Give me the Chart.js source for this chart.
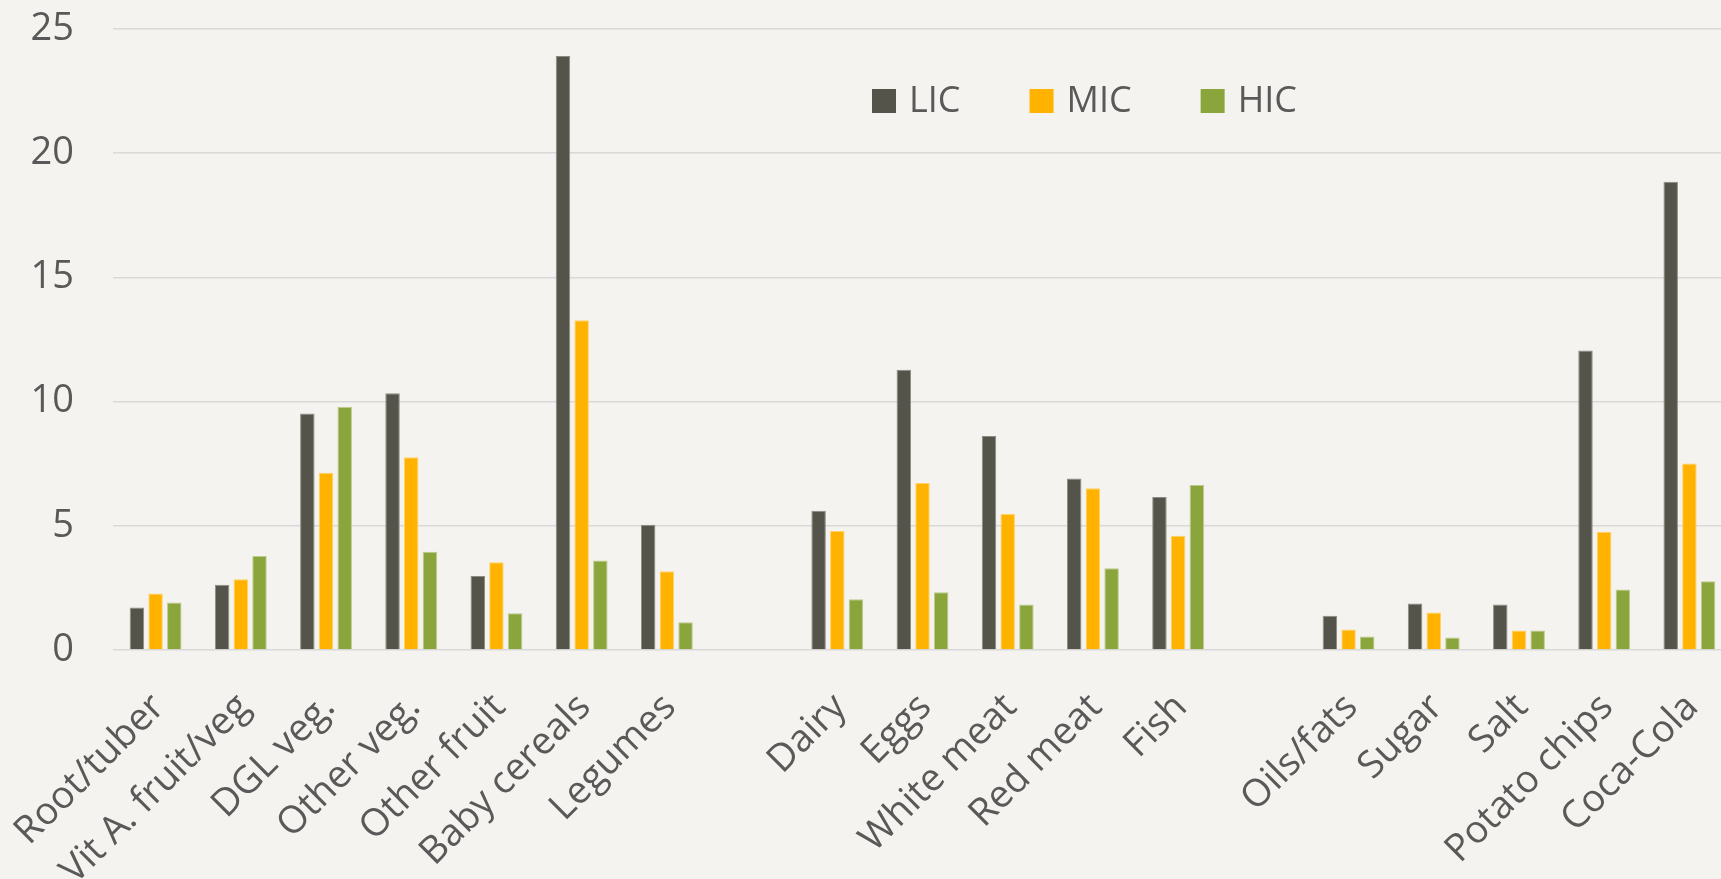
<!DOCTYPE html>
<html>
<head>
<meta charset="utf-8">
<script src="https://cdn.jsdelivr.net/npm/chart.js@4.4.1/dist/chart.umd.min.js"></script>
<style>
  html, body { margin: 0; padding: 0; overflow: hidden; background: #f4f3ef; }
  #wrap { position: absolute; left: 0; top: 0; width: 1740px; height: 960px; }
</style>
</head>
<body>
<div id="wrap"><canvas id="foodChart" width="1740" height="960"></canvas></div>
<script>
// food groups, with empty slots separating the three blocks
const categories = ['Root/tuber', 'Vit A. fruit/veg', 'DGL veg.', 'Other veg.', 'Other fruit', 'Baby cereals', 'Legumes', '',
  'Dairy', 'Eggs', 'White meat', 'Red meat', 'Fish', '',
  'Oils/fats', 'Sugar', 'Salt', 'Potato chips', 'Coca-Cola'];

const licValues = [1.71, 2.63, 9.52, 10.34, 2.98, 23.91, 5.04, null, 5.61, 11.28, 8.62, 6.90, 6.16, null, 1.38, 1.87, 1.83, 12.06, 18.85];
const micValues = [2.27, 2.85, 7.14, 7.76, 3.53, 13.27, 3.17, null, 4.79, 6.72, 5.48, 6.51, 4.60, null, 0.83, 1.51, 0.79, 4.76, 7.51];
const hicValues = [1.91, 3.78, 9.78, 3.96, 1.48, 3.60, 1.12, null, 2.04, 2.32, 1.83, 3.29, 6.64, null, 0.54, 0.50, 0.79, 2.44, 2.77];

const yTicks = [0, 5, 10, 15, 20, 25];

const textColor = '#595959';
Chart.defaults.font.family = "'Open Sans', 'Noto Sans', sans-serif";
Chart.defaults.color = textColor;

// legend drawn over the plot, top right of centre
const overlayLegend = {
  id: 'overlayLegend',
  afterDraw(chart) {
    const ctx = chart.ctx;
    ctx.save();
    ctx.font = "36px 'Open Sans', 'Noto Sans', sans-serif";
    ctx.textBaseline = 'middle';
    ctx.textAlign = 'left';
    let x = 872;
    const y = 89, box = 24;
    chart.data.datasets.forEach(ds => {
      ctx.fillStyle = ds.backgroundColor;
      ctx.fillRect(x, y, box, box);
      ctx.fillStyle = textColor;
      ctx.fillText(ds.label, x + box + 13, y + box / 2 + 1);
      x += box + 13 + ctx.measureText(ds.label).width + 69;
    });
    ctx.restore();
  }
};

// keep the axes from reserving extra room for overhanging labels
function noScalePadding(scale) {
  scale.paddingLeft = 0;
  scale.paddingRight = 0;
  scale.paddingTop = 0;
  scale.paddingBottom = 0;
}

const barChart = new Chart(document.getElementById('foodChart'), {
  type: 'bar',
  data: {
    labels: categories,
    datasets: [
      { label: 'LIC', data: licValues, backgroundColor: '#54544a', borderColor: '#8c8c84' },
      { label: 'MIC', data: micValues, backgroundColor: '#ffb300', borderColor: '#ffd266' },
      { label: 'HIC', data: hicValues, backgroundColor: '#8ba53d', borderColor: '#bccb8c' }
    ]
  },
  options: {
    responsive: false,
    animation: false,
    layout: { padding: { left: 0, right: 8, top: 29, bottom: 0 } },
    datasets: {
      bar: {
        categoryPercentage: 0.658,
        barPercentage: 0.775,
        borderWidth: { top: 1, left: 1, right: 1, bottom: 0 }
      }
    },
    plugins: {
      legend: { display: false },
      tooltip: { enabled: false }
    },
    scales: {
      x: {
        grid: { display: false, drawTicks: false },
        border: { display: false },
        ticks: {
          autoSkip: false,
          minRotation: 45,
          maxRotation: 45,
          padding: 35,
          labelOffset: 3,
          font: { size: 38 },
          color: textColor
        },
        afterFit(scale) {
          scale.height = 310;
          noScalePadding(scale);
        }
      },
      y: {
        min: 0,
        max: 25,
        afterBuildTicks(scale) { scale.ticks = yTicks.map(v => ({ value: v })); },
        grid: { color: '#d9d9d9', lineWidth: 1.5, drawTicks: false },
        border: { display: false },
        ticks: { padding: 39, font: { size: 38 }, color: textColor },
        afterFit(scale) {
          scale.width = 113;
          noScalePadding(scale);
        }
      }
    }
  },
  plugins: [overlayLegend]
});
</script>
</body>
</html>
